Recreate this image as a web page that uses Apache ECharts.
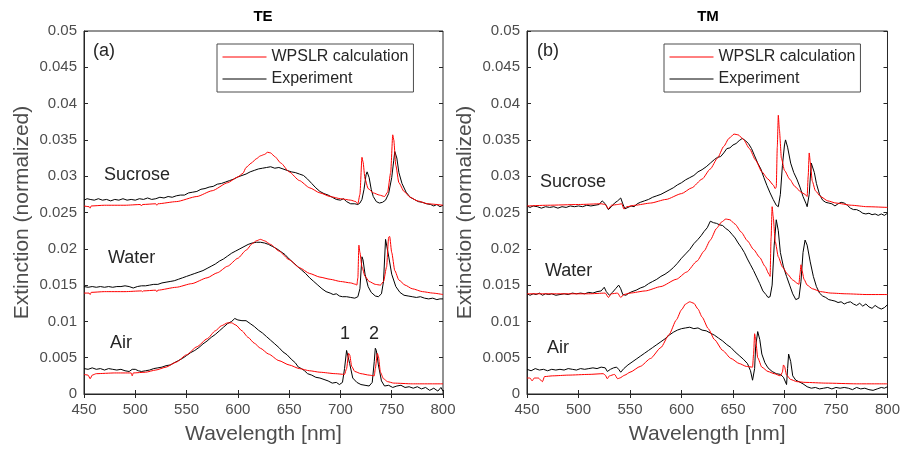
<!DOCTYPE html>
<html>
<head>
<meta charset="utf-8">
<title>TE / TM extinction</title>
<script src="https://cdn.jsdelivr.net/npm/echarts@6/dist/echarts.min.js"></script>
<style>
  html, body { margin: 0; padding: 0; background: #fff; }
  #chart { width: 903px; height: 450px; }
</style>
</head>
<body>
<div id="chart"></div>
<script>
// axis ticks
const xTicks = [450, 500, 550, 600, 650, 700, 750, 800]
const yTicks = [0, 0.005, 0.01, 0.015, 0.02, 0.025, 0.03, 0.035, 0.04, 0.045, 0.05]
const legendNames = ['WPSLR calculation', 'Experiment']

// ---- TE panel (a) ----
const teSucCalc = [[450,0.0259],[455,0.0258],[456,0.0256],[457,0.0259],[470,0.026],[490,0.026],[505,0.0261],[506,0.0259],[507,0.0261],[520,0.0262],[521,0.026],[522,0.0262],[540,0.0265],[560,0.0272],[575,0.028],[590,0.0291],[600,0.0299],[605,0.0304],[608,0.0312],[613,0.0318],[618,0.0324],[622,0.0328],[626,0.033],[629,0.0333],[632,0.0332],[636,0.0327],[642,0.0318],[650,0.0306],[660,0.0294],[670,0.0284],[680,0.0277],[690,0.0272],[700,0.0269],[710,0.0267],[715,0.0265],[717,0.0262],[719,0.0275],[721,0.0326],[722,0.032],[724,0.0296],[727,0.0283],[732,0.0277],[738,0.0274],[743,0.0272],[746,0.0278],[749,0.0305],[751,0.0357],[752,0.035],[754,0.0315],[757,0.0291],[762,0.0279],[768,0.0271],[775,0.0266],[785,0.0262],[800,0.026]]
const teSucExp = [[450,0.0267],[453,0.0269],[456,0.0268],[460,0.0267],[464,0.0269],[468,0.0267],[472,0.0268],[476,0.0266],[480,0.0268],[484,0.0267],[488,0.0269],[492,0.0267],[496,0.0268],[500,0.0267],[504,0.0269],[508,0.0268],[512,0.027],[516,0.0268],[520,0.0269],[524,0.0271],[528,0.027],[532,0.0272],[536,0.0271],[540,0.0273],[544,0.0274],[548,0.0274],[552,0.0277],[556,0.0278],[560,0.0279],[564,0.0282],[568,0.0283],[572,0.0285],[576,0.0286],[580,0.0289],[584,0.029],[588,0.0292],[592,0.0294],[596,0.0296],[600,0.0299],[604,0.0301],[608,0.0303],[612,0.0306],[616,0.0308],[620,0.031],[624,0.0311],[628,0.0312],[632,0.0313],[636,0.0311],[640,0.0312],[644,0.031],[648,0.0308],[652,0.0306],[656,0.0305],[660,0.0303],[664,0.0301],[668,0.0296],[672,0.029],[676,0.0284],[680,0.0279],[684,0.0276],[688,0.0274],[692,0.0271],[696,0.0268],[700,0.0267],[703,0.0269],[706,0.0265],[710,0.0262],[714,0.0262],[717,0.0261],[719,0.0263],[721,0.0268],[723,0.0282],[725,0.0302],[726,0.0306],[728,0.0298],[730,0.0282],[732,0.0272],[735,0.0265],[738,0.0263],[741,0.0264],[744,0.0267],[747,0.0276],[750,0.0298],[752,0.0322],[753,0.0334],[755,0.0325],[757,0.0305],[760,0.029],[764,0.0278],[768,0.0271],[772,0.0268],[776,0.0265],[780,0.0264],[784,0.0262],[788,0.0261],[791,0.0259],[794,0.0261],[797,0.0258],[800,0.026]]
const teWatCalc = [[450,0.0139],[455,0.0139],[456,0.0137],[457,0.014],[470,0.0141],[490,0.0141],[506,0.0142],[507,0.0141],[508,0.0142],[520,0.0143],[521,0.0141],[522,0.0143],[540,0.0147],[555,0.0152],[570,0.016],[580,0.0167],[590,0.0176],[600,0.0187],[608,0.0198],[614,0.0207],[618,0.0211],[622,0.0213],[626,0.0211],[632,0.0206],[640,0.0197],[650,0.0185],[660,0.0174],[670,0.0166],[680,0.0161],[690,0.0158],[700,0.0155],[710,0.0153],[715,0.0151],[716,0.015],[717,0.016],[718,0.0205],[719,0.0195],[721,0.0175],[724,0.0162],[728,0.0155],[734,0.0151],[739,0.015],[742,0.0155],[745,0.0175],[747,0.0216],[748,0.0217],[750,0.0195],[753,0.017],[757,0.0157],[763,0.015],[770,0.0145],[780,0.0141],[790,0.0139],[800,0.0137]]
const teWatExp = [[450,0.0148],[454,0.0147],[458,0.0148],[462,0.0147],[466,0.0148],[470,0.0147],[474,0.0148],[478,0.0147],[482,0.0148],[486,0.0148],[490,0.0149],[494,0.0148],[498,0.0146],[502,0.0148],[506,0.0149],[510,0.0149],[514,0.015],[518,0.0151],[522,0.0151],[526,0.0153],[530,0.0154],[534,0.0155],[538,0.0156],[542,0.0158],[546,0.016],[550,0.0162],[554,0.0164],[558,0.0166],[562,0.0168],[566,0.017],[570,0.0173],[574,0.0176],[578,0.0179],[582,0.0183],[586,0.0186],[590,0.019],[594,0.0194],[598,0.0197],[602,0.02],[606,0.0203],[610,0.0206],[614,0.0208],[618,0.0209],[622,0.0209],[626,0.0208],[630,0.0206],[634,0.0203],[638,0.02],[642,0.0196],[646,0.0192],[650,0.0186],[654,0.0181],[658,0.0176],[662,0.0171],[666,0.0166],[670,0.016],[674,0.0155],[678,0.015],[682,0.0145],[686,0.0141],[690,0.0139],[693,0.0137],[696,0.0138],[699,0.0135],[702,0.0134],[706,0.0134],[710,0.0133],[714,0.0132],[717,0.0134],[719,0.0145],[721,0.0189],[722,0.0185],[724,0.0165],[727,0.0148],[730,0.014],[734,0.0135],[737,0.0134],[740,0.0138],[742,0.0155],[744,0.0213],[745,0.0212],[747,0.019],[750,0.0165],[754,0.0148],[758,0.014],[762,0.0136],[766,0.0135],[770,0.0134],[774,0.0133],[778,0.0134],[782,0.0132],[786,0.0131],[790,0.0132],[794,0.013],[797,0.0131],[800,0.0131]]
const teAirCalc = [[450,0.0027],[454,0.0026],[456,0.0021],[458,0.0026],[462,0.0028],[480,0.0029],[496,0.0029],[497,0.0025],[498,0.0029],[510,0.003],[520,0.0033],[530,0.0037],[540,0.0044],[550,0.0054],[560,0.0065],[570,0.0076],[578,0.0087],[584,0.0094],[590,0.0098],[594,0.0098],[598,0.0095],[604,0.0087],[610,0.0078],[616,0.007],[622,0.0063],[630,0.0055],[640,0.0046],[650,0.004],[660,0.0035],[670,0.0032],[680,0.003],[695,0.0028],[704,0.0027],[706,0.0035],[708,0.0056],[709,0.0054],[711,0.0038],[714,0.0031],[720,0.0028],[728,0.0026],[733,0.0025],[734,0.0035],[736,0.0056],[737,0.0052],[739,0.003],[742,0.0021],[746,0.0017],[752,0.0015],[770,0.0014],[800,0.0014]]
const teAirExp = [[450,0.0035],[454,0.0034],[458,0.0036],[462,0.0034],[466,0.0035],[470,0.0033],[474,0.0035],[478,0.0034],[482,0.0033],[486,0.0034],[490,0.0032],[494,0.0031],[497,0.0034],[500,0.0034],[503,0.0032],[506,0.0031],[510,0.0032],[514,0.0033],[518,0.0035],[522,0.0036],[526,0.0037],[530,0.0039],[534,0.004],[538,0.0043],[542,0.0046],[546,0.0049],[550,0.0053],[554,0.0057],[558,0.006],[562,0.0064],[566,0.0069],[570,0.0073],[574,0.0078],[578,0.0082],[582,0.0087],[586,0.0092],[590,0.0097],[594,0.01],[597,0.0104],[600,0.0102],[604,0.0101],[608,0.0101],[612,0.0097],[616,0.0093],[620,0.0088],[624,0.0084],[628,0.0079],[632,0.0074],[636,0.0069],[640,0.0064],[644,0.0058],[648,0.0054],[652,0.0048],[656,0.0043],[659,0.0037],[662,0.0035],[665,0.0032],[668,0.0028],[672,0.0026],[676,0.0023],[680,0.0022],[684,0.002],[688,0.0018],[692,0.0015],[696,0.0016],[699,0.0013],[702,0.0016],[704,0.0035],[706,0.006],[707,0.0058],[709,0.0042],[712,0.0022],[716,0.0016],[720,0.0013],[724,0.0012],[728,0.0011],[731,0.0016],[733,0.0045],[734,0.0063],[735,0.006],[737,0.004],[740,0.0018],[743,0.0011],[747,0.0012],[751,0.0009],[755,0.0011],[759,0.0012],[763,0.0009],[767,0.001],[771,0.0008],[775,0.001],[779,0.0007],[783,0.0009],[787,0.0005],[791,0.0008],[795,0.0004],[798,0.0009],[800,0.0004]]

// ---- TM panel (b) ----
const tmSucCalc = [[450,0.0259],[470,0.026],[500,0.0261],[522,0.0262],[526,0.0261],[529,0.0255],[532,0.026],[538,0.0261],[542,0.0262],[544,0.0255],[547,0.0258],[555,0.026],[570,0.0263],[585,0.0268],[600,0.0276],[610,0.0284],[620,0.0296],[628,0.031],[635,0.0325],[641,0.0341],[646,0.0352],[651,0.0358],[655,0.0357],[660,0.0351],[666,0.0338],[672,0.0322],[678,0.0306],[684,0.0296],[689,0.0288],[691,0.0283],[692,0.0285],[693,0.034],[694,0.0384],[695,0.0365],[697,0.0325],[700,0.0308],[705,0.0296],[710,0.0286],[716,0.0278],[720,0.0275],[722,0.0272],[723,0.03],[724,0.0332],[725,0.032],[727,0.0293],[730,0.028],[735,0.0272],[742,0.0266],[750,0.0263],[765,0.026],[780,0.0258],[800,0.0257]]
const tmSucExp = [[450,0.0259],[453,0.0257],[456,0.0259],[460,0.0258],[464,0.0256],[468,0.0258],[472,0.0257],[476,0.0258],[480,0.0256],[484,0.0258],[488,0.0257],[492,0.0259],[496,0.0258],[500,0.0259],[504,0.0258],[508,0.026],[512,0.0259],[516,0.026],[520,0.0261],[523,0.0266],[526,0.0262],[529,0.0254],[532,0.0258],[535,0.0263],[538,0.0266],[541,0.027],[543,0.0262],[545,0.0255],[548,0.0257],[551,0.0259],[554,0.0258],[557,0.0262],[560,0.0264],[564,0.0266],[568,0.0268],[572,0.0271],[576,0.0273],[580,0.0275],[584,0.0278],[588,0.0281],[592,0.0284],[596,0.0288],[600,0.0291],[604,0.0295],[608,0.0298],[612,0.0301],[616,0.0306],[620,0.0309],[624,0.0313],[628,0.0318],[632,0.0323],[635,0.0326],[638,0.0327],[641,0.0332],[644,0.0338],[647,0.0339],[650,0.0343],[653,0.0345],[656,0.0349],[659,0.0352],[662,0.0349],[665,0.0345],[668,0.0338],[671,0.0328],[674,0.0318],[677,0.031],[680,0.0298],[683,0.0287],[686,0.0277],[689,0.0268],[692,0.026],[694,0.0258],[696,0.0275],[698,0.0315],[700,0.0343],[701,0.035],[703,0.034],[706,0.0318],[709,0.0305],[712,0.0296],[715,0.0285],[718,0.0272],[721,0.0262],[722,0.0258],[724,0.0275],[726,0.0318],[727,0.032],[729,0.0305],[731,0.029],[734,0.0275],[737,0.0267],[740,0.0264],[743,0.0263],[746,0.0262],[749,0.0259],[752,0.0262],[755,0.0264],[758,0.0263],[761,0.026],[764,0.0256],[767,0.0254],[770,0.0254],[773,0.0252],[776,0.0249],[779,0.0248],[782,0.0249],[785,0.0247],[788,0.0248],[791,0.0246],[794,0.0248],[797,0.0246],[800,0.0249]]
const tmWatCalc = [[450,0.0138],[480,0.0138],[510,0.0138],[526,0.0139],[529,0.0133],[532,0.0138],[538,0.0139],[541,0.0133],[544,0.0137],[550,0.0139],[565,0.0142],[580,0.0148],[595,0.0158],[605,0.0168],[615,0.0183],[622,0.0197],[628,0.0212],[634,0.0228],[639,0.0237],[643,0.0241],[647,0.024],[652,0.0234],[658,0.0223],[664,0.0211],[670,0.0199],[676,0.0188],[681,0.0176],[685,0.0165],[686,0.0162],[687,0.0215],[688,0.0258],[689,0.0245],[691,0.021],[694,0.0189],[698,0.0175],[703,0.0165],[708,0.0157],[713,0.0152],[714,0.0151],[715,0.0165],[716,0.0178],[717,0.017],[719,0.0158],[722,0.015],[727,0.0145],[735,0.0141],[745,0.0139],[760,0.0138],[780,0.0137],[800,0.0137]]
const tmWatExp = [[450,0.0138],[453,0.0136],[456,0.0138],[459,0.0137],[462,0.0139],[465,0.0136],[468,0.0138],[471,0.0137],[474,0.0138],[478,0.0136],[482,0.0137],[486,0.0138],[490,0.0137],[494,0.0139],[498,0.0138],[502,0.0139],[506,0.0138],[510,0.014],[514,0.0139],[518,0.0141],[522,0.0142],[525,0.0147],[527,0.0141],[530,0.0136],[533,0.014],[536,0.0145],[539,0.015],[541,0.0145],[543,0.0137],[546,0.0136],[549,0.0139],[552,0.0141],[556,0.0143],[560,0.0146],[564,0.0148],[568,0.0152],[572,0.0155],[576,0.0158],[580,0.0162],[584,0.0165],[588,0.0169],[592,0.0174],[596,0.018],[600,0.0187],[604,0.0193],[608,0.0199],[612,0.0207],[616,0.0213],[619,0.0218],[622,0.0224],[625,0.0229],[628,0.0238],[631,0.0236],[634,0.0235],[637,0.0233],[640,0.0232],[643,0.0228],[646,0.0225],[649,0.022],[652,0.0215],[655,0.0208],[658,0.0202],[661,0.0195],[664,0.0186],[667,0.0178],[670,0.017],[673,0.0161],[676,0.0152],[679,0.0142],[682,0.0137],[684,0.0133],[686,0.0134],[688,0.015],[690,0.0205],[692,0.024],[694,0.0225],[696,0.0195],[699,0.0175],[702,0.0162],[705,0.015],[708,0.0138],[711,0.013],[714,0.0132],[716,0.0155],[718,0.0195],[720,0.0212],[722,0.0205],[725,0.0182],[728,0.0162],[731,0.0148],[734,0.0139],[737,0.0135],[740,0.0133],[743,0.013],[746,0.0129],[749,0.0128],[752,0.0126],[755,0.0127],[758,0.0124],[761,0.0126],[764,0.0127],[767,0.0124],[770,0.0122],[773,0.0125],[776,0.0121],[779,0.0124],[782,0.012],[785,0.0118],[788,0.0122],[791,0.0119],[794,0.0117],[797,0.0119],[800,0.0123]]
const tmAirCalc = [[450,0.0022],[453,0.0022],[455,0.0018],[457,0.0022],[461,0.0022],[465,0.0017],[467,0.0024],[475,0.0025],[490,0.0026],[510,0.0027],[524,0.0028],[526,0.0026],[528,0.0021],[530,0.0025],[535,0.0027],[538,0.0021],[540,0.0022],[545,0.0026],[550,0.003],[560,0.0038],[570,0.0049],[580,0.0064],[588,0.0082],[595,0.0102],[600,0.0116],[604,0.0124],[608,0.0127],[612,0.0125],[616,0.0117],[620,0.0106],[626,0.009],[632,0.0075],[640,0.006],[648,0.0049],[656,0.0042],[663,0.0038],[669,0.0037],[670,0.0055],[671,0.0083],[672,0.0075],[674,0.005],[678,0.0037],[684,0.0031],[690,0.0028],[696,0.0025],[698,0.003],[699,0.004],[700,0.0038],[702,0.0026],[706,0.002],[712,0.0017],[720,0.0016],[740,0.0015],[770,0.0014],[800,0.0014]]
const tmAirExp = [[450,0.0034],[454,0.0032],[458,0.0035],[462,0.0033],[466,0.0034],[470,0.0032],[474,0.0034],[478,0.0033],[482,0.0034],[486,0.0033],[490,0.0035],[494,0.0034],[498,0.0033],[502,0.0035],[506,0.0034],[510,0.0035],[514,0.0036],[518,0.0035],[522,0.0037],[526,0.0036],[528,0.0031],[531,0.0034],[534,0.0036],[537,0.0037],[539,0.0034],[541,0.003],[544,0.0035],[548,0.004],[552,0.0044],[556,0.0048],[560,0.0052],[564,0.0056],[568,0.006],[572,0.0064],[576,0.0068],[580,0.0072],[584,0.0076],[588,0.0081],[592,0.0085],[596,0.0088],[600,0.009],[604,0.0091],[608,0.0092],[612,0.009],[616,0.0091],[620,0.0088],[624,0.0087],[628,0.0084],[632,0.0081],[636,0.0077],[640,0.0073],[644,0.0068],[648,0.0064],[652,0.0058],[656,0.0053],[660,0.0048],[664,0.0042],[667,0.0032],[669,0.0019],[671,0.0035],[672,0.0065],[674,0.0086],[676,0.0075],[678,0.0055],[681,0.0043],[684,0.0036],[688,0.0031],[692,0.0028],[696,0.0027],[699,0.0023],[702,0.0013],[703,0.0035],[704,0.0055],[706,0.0045],[708,0.0025],[711,0.0019],[714,0.0017],[718,0.0014],[722,0.001],[726,0.0008],[730,0.0009],[734,0.0007],[738,0.0008],[742,0.0009],[746,0.0007],[750,0.0009],[754,0.0008],[758,0.0009],[762,0.0008],[766,0.0006],[770,0.0009],[774,0.0007],[778,0.0008],[782,0.0006],[786,0.0005],[790,0.0007],[794,0.0009],[797,0.0008],[800,0.001]]

const FONT = '"Liberation Sans", Arial, Helvetica, sans-serif'
const AXIS_COLOR = '#262626'
const LABEL_COLOR = '#4d4d4d'

const chart = echarts.init(document.getElementById('chart'), null, { renderer: 'canvas' })

// bottom/left axis with labels, top/right only mirrored ticks
const makeX = (gridIndex, mirror) => ({
  type: 'value',
  gridIndex,
  position: mirror ? 'top' : 'bottom',
  min: xTicks[0],
  max: xTicks[xTicks.length - 1],
  interval: xTicks[1] - xTicks[0],
  name: mirror ? '' : 'Wavelength [nm]',
  nameLocation: 'middle',
  nameGap: 30,
  nameTextStyle: { fontFamily: FONT, fontSize: 21, color: LABEL_COLOR },
  axisLine: { show: !mirror, lineStyle: { color: AXIS_COLOR, width: 1 } },
  axisTick: { show: true, inside: true, length: 4, lineStyle: { color: AXIS_COLOR } },
  axisLabel: { show: !mirror, fontFamily: FONT, fontSize: 15, color: LABEL_COLOR, margin: 8 },
  splitLine: { show: false }
})
const makeY = (gridIndex, mirror) => ({
  type: 'value',
  gridIndex,
  position: mirror ? 'right' : 'left',
  min: yTicks[0],
  max: yTicks[yTicks.length - 1],
  interval: yTicks[1] - yTicks[0],
  name: mirror ? '' : 'Extinction (normalized)',
  nameLocation: 'middle',
  nameGap: 51,
  nameTextStyle: { fontFamily: FONT, fontSize: 21, color: LABEL_COLOR },
  axisLine: { show: !mirror, lineStyle: { color: AXIS_COLOR, width: 1 } },
  axisTick: { show: true, inside: true, length: 4, lineStyle: { color: AXIS_COLOR } },
  axisLabel: { show: !mirror, fontFamily: FONT, fontSize: 15, color: LABEL_COLOR, margin: 7 },
  splitLine: { show: false }
})

const calcLine = (data, axisIndex) => ({
  name: legendNames[0],
  type: 'line',
  xAxisIndex: axisIndex,
  yAxisIndex: axisIndex,
  data,
  symbol: 'none',
  smooth: 0.2,
  smoothMonotone: 'x',
  lineStyle: { color: '#ff0000', width: 1 },
  itemStyle: { color: '#ff0000' },
  z: 3
})
const expLine = (data, axisIndex) => ({
  name: legendNames[1],
  type: 'line',
  xAxisIndex: axisIndex,
  yAxisIndex: axisIndex,
  data,
  symbol: 'none',
  lineStyle: { color: '#000000', width: 1 },
  itemStyle: { color: '#000000' },
  z: 2
})

// legend: plain line samples, no symbol on them
const makeLegend = (left) => ({
  left,
  top: 44,
  orient: 'vertical',
  data: legendNames,
  itemWidth: 44,
  itemHeight: 17,
  itemGap: 6,
  padding: [5, 5, 5, 5],
  borderColor: '#4d4d4d',
  borderWidth: 1,
  backgroundColor: '#fff',
  selectedMode: false,
  itemStyle: { opacity: 0 },
  lineStyle: { width: 1 },
  textStyle: { fontFamily: FONT, fontSize: 16, color: '#262626' }
})

const txt = (text, x, y, size, opts) => ({
  type: 'text',
  x,
  y,
  z: 10,
  style: Object.assign({
    text,
    fontFamily: FONT,
    fontSize: size,
    fill: '#262626',
    verticalAlign: 'middle'
  }, opts || {})
})

const option = {
  animation: false,
  backgroundColor: '#fff',
  grid: [
    { left: 84, top: 31, width: 359, height: 363, show: true, borderColor: AXIS_COLOR, borderWidth: 1, backgroundColor: 'transparent' },
    { left: 527, top: 31, width: 363, height: 363, show: true, borderColor: AXIS_COLOR, borderWidth: 1, backgroundColor: 'transparent' }
  ],
  xAxis: [makeX(0, false), makeX(0, true), makeX(1, false), makeX(1, true)],
  yAxis: [makeY(0, false), makeY(0, true), makeY(1, false), makeY(1, true)],
  legend: [makeLegend(217), makeLegend(664)],
  series: [
    expLine(teSucExp, 0), calcLine(teSucCalc, 0),
    expLine(teWatExp, 0), calcLine(teWatCalc, 0),
    expLine(teAirExp, 0), calcLine(teAirCalc, 0),
    expLine(tmSucExp, 2), calcLine(tmSucCalc, 2),
    expLine(tmWatExp, 2), calcLine(tmWatCalc, 2),
    expLine(tmAirExp, 2), calcLine(tmAirCalc, 2)
  ],
  graphic: [
    txt('TE', 263, 17, 15, { align: 'center', fontWeight: 'bold', fill: '#000' }),
    txt('TM', 708, 17, 15, { align: 'center', fontWeight: 'bold', fill: '#000' }),
    txt('(a)', 93, 51, 18),
    txt('(b)', 537, 51, 18),
    txt('Sucrose', 104, 175, 18),
    txt('Water', 108, 258, 18),
    txt('Air', 110, 343, 18),
    txt('1', 345, 334, 18, { align: 'center' }),
    txt('2', 374, 334, 18, { align: 'center' }),
    txt('Sucrose', 540, 182, 18),
    txt('Water', 545, 271, 18),
    txt('Air', 547, 348, 18)
  ]
}

chart.setOption(option)
</script>
</body>
</html>
